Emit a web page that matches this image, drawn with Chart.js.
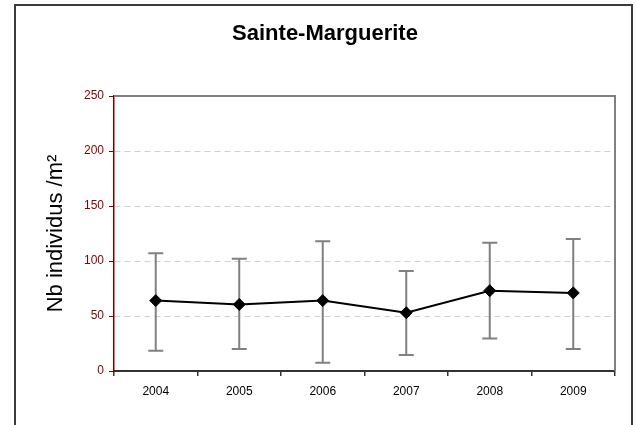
<!DOCTYPE html>
<html>
<head>
<meta charset="utf-8">
<script src="https://cdn.jsdelivr.net/npm/chart.js@4/dist/chart.umd.min.js"></script>
<style>
  html, body { margin: 0; padding: 0; background: #fff; overflow: hidden; }
  #frame { position: absolute; left: 14px; top: 4px; width: 615px; height: 500px; border: 2px solid #3c3c3c; }
  #wrap { position: absolute; left: 0; top: 0; width: 636px; height: 425px; }
</style>
</head>
<body>
<div id="frame"></div>
<div id="wrap"><canvas id="c" width="636" height="425"></canvas></div>
<script>
const years = ['2004', '2005', '2006', '2007', '2008', '2009'];
const means = [64, 60.5, 64, 53, 73, 71];
const upper = [107, 102, 118, 91, 116.5, 120];
const lower = [18.5, 20, 7.5, 14.5, 29.5, 20];
const yTicks = [0, 50, 100, 150, 200, 250];
const chartTitle = 'Sainte-Marguerite';
const yTitle = 'Nb individus /m²';

const FONT = '"Liberation Sans", Arial, sans-serif';

const titlePlugin = {
  id: 'fixedTitle',
  afterDraw(chart) {
    const ctx = chart.ctx;
    ctx.save();
    ctx.font = 'bold 22px ' + FONT;
    ctx.fillStyle = '#000';
    ctx.textAlign = 'center';
    ctx.textBaseline = 'middle';
    ctx.fillText(chartTitle, 325, 34);
    ctx.restore();
  }
};

const framePlugin = {
  id: 'plotFrame',
  beforeDatasetsDraw(chart) {
    const { ctx, chartArea: a } = chart;
    ctx.save();
    ctx.strokeStyle = '#808080';
    ctx.lineWidth = 2;
    ctx.beginPath();
    ctx.moveTo(a.left, a.top);
    ctx.lineTo(a.right, a.top);
    ctx.lineTo(a.right, a.bottom);
    ctx.stroke();
    ctx.restore();
  }
};

const errorBarPlugin = {
  id: 'errorBars',
  beforeDatasetsDraw(chart) {
    const ctx = chart.ctx;
    const xs = chart.scales.x, ys = chart.scales.y;
    ctx.save();
    ctx.strokeStyle = '#808080';
    ctx.lineWidth = 2;
    for (let i = 0; i < years.length; i++) {
      const x = xs.getPixelForValue(i);
      const yt = ys.getPixelForValue(upper[i]);
      const yb = ys.getPixelForValue(lower[i]);
      ctx.beginPath();
      ctx.moveTo(x, yt); ctx.lineTo(x, yb);
      ctx.moveTo(x - 7.5, yt); ctx.lineTo(x + 7.5, yt);
      ctx.moveTo(x - 7.5, yb); ctx.lineTo(x + 7.5, yb);
      ctx.stroke();
    }
    ctx.restore();
  }
};

new Chart(document.getElementById('c'), {
  type: 'line',
  data: {
    labels: years,
    datasets: [{
      data: means,
      borderColor: '#000',
      borderWidth: 2,
      backgroundColor: '#000',
      pointStyle: 'rectRot',
      pointRadius: 6,
      pointBackgroundColor: '#000',
      pointBorderColor: '#000',
      pointBorderWidth: 1,
      tension: 0,
      fill: false
    }]
  },
  options: {
    responsive: false,
    animation: false,
    events: [],
    layout: { padding: { top: 96, right: 21, left: 0, bottom: 0 } },
    plugins: { legend: { display: false }, title: { display: false }, tooltip: { enabled: false } },
    scales: {
      x: {
        type: 'category',
        offset: true,
        afterFit(s) { s.height = 54; },
        grid: { display: true, offset: true, drawOnChartArea: false, drawTicks: true, tickLength: 5, color: '#333', tickColor: '#333', lineWidth: 1.5 },
        border: { display: true, color: '#333', width: 2 },
        ticks: { color: '#000', font: { family: FONT, size: 12 }, padding: 8, maxRotation: 0 }
      },
      y: {
        min: 0, max: 250,
        afterFit(s) { s.width = 114; },
        afterBuildTicks(s) { s.ticks = yTicks.map(v => ({ value: v })); },
        grid: {
          drawTicks: true, tickLength: 5,
          color: (c) => (c.tick && (c.tick.value === 0 || c.tick.value === 250)) ? 'rgba(0,0,0,0)' : '#d0d0d0',
          tickColor: '#800000',
          lineWidth: 1
        },
        border: { display: true, color: '#800000', width: 1.5, dash: [6, 4] },
        ticks: { color: '#800000', font: { family: FONT, size: 12 }, padding: 5 },
        title: { display: true, text: yTitle, color: '#000', font: { family: FONT, size: 22 }, padding: { top: 43, bottom: 0 } }
      }
    }
  },
  plugins: [errorBarPlugin, framePlugin, titlePlugin]
});
</script>
</body>
</html>
